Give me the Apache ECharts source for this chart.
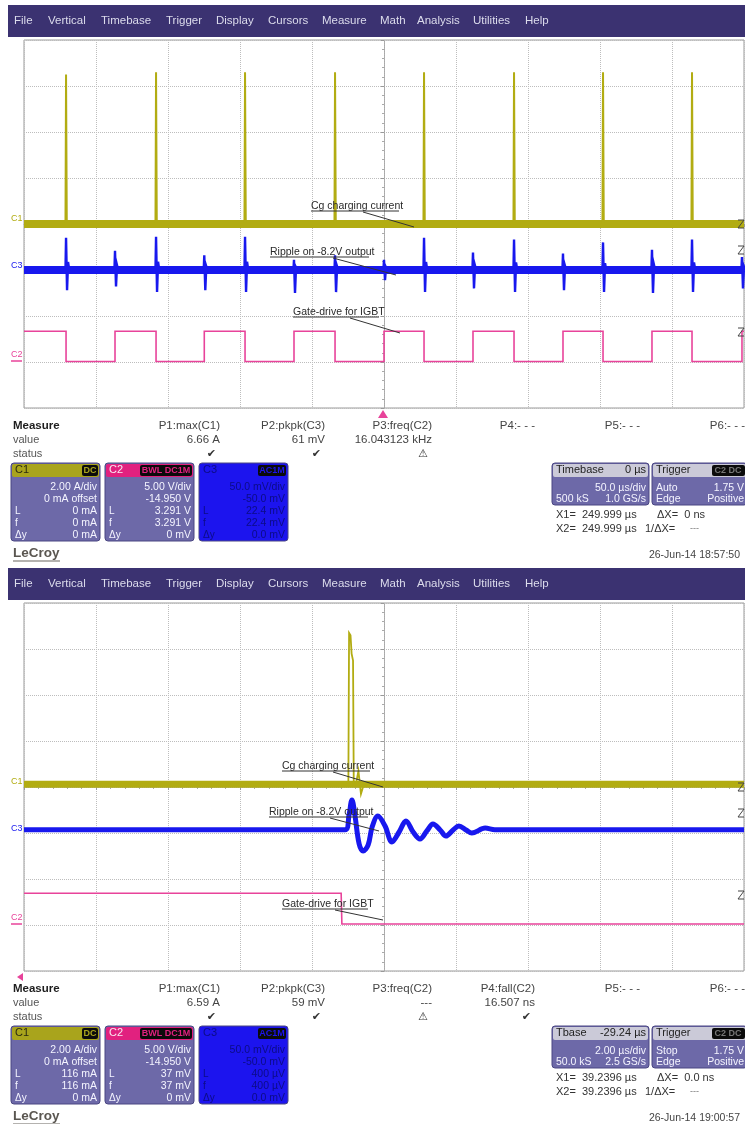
<!DOCTYPE html>
<html><head><meta charset="utf-8">
<script src="https://cdn.jsdelivr.net/npm/echarts@6/dist/echarts.min.js"></script>
<style>html,body{margin:0;padding:0;background:#fff}#c{width:745px;height:1124px}</style>
</head><body><div id="c"></div><script>
// ================= DATA =================
// Top capture: 50 µs/div, time in µs (screen -250..250)
const topTime = [-250, 250];
const topC2Rise = [-186.8, -124.8, -62.5, 0, 61.8, 124.3, 186.1, 248.6];      // µs
const topC2Fall = [-220.8, -158.3, -96.5, -34.0, 27.8, 90.3, 152.1, 213.9];   // µs
const topC2Levels = [3.29, 0.0];            // V high / low
const topC1Base = 0.0;                      // A
const topC1SpikeT = [-220.8, -158.3, -96.5, -34.0, 27.8, 90.3, 152.1, 213.9]; // µs
const topC1SpikeA = [6.5, 6.6, 6.6, 6.6, 6.6, 6.6, 6.6, 6.6];               // A
const topC3Base = 0.0;                      // mV
const topC3SpikeT = [-220.8, -186.8, -158.3, -124.8, -96.5, -62.5, -34.0, 0, 27.8, 61.8, 90.3, 124.3, 152.1, 186.1, 213.9, 248.6];
const topC3SpikeUp = [35, 21, 36, 16, 36, 11, 16, 11, 35, 19, 33, 18, 30, 22, 33, 14];     // mV
const topC3SpikeDn = [-22, -18, -24, -22, -24, -25, -24, -11, -24, -20, -24, -22, -24, -25, -24, -20];

// Bottom capture: 2 µs/div, time in µs (screen -10..10)
const botTime = [-10, 10];
const botC1Base = 0.12; // A
const botC1 = [[-10,0.12],[-0.99,0.12],[-0.97,6.7],[-0.93,6.6],[-0.90,5.8],[-0.86,5.5],[-0.84,0.12],[-0.78,0.12],[-0.71,0.7],[-0.64,-0.3],[-0.56,0.12],[10,0.12]];
const botC3Base = 3.5; // mV
const botC3 = [[-10,3.5],[-1.08,3.5],[-0.97,20],[-0.89,36],[-0.81,20],[-0.69,-12],[-0.58,-19.6],[-0.44,-13],[-0.33,6.5],[-0.17,18.5],[0.03,7.6],[0.22,-9.8],[0.42,1.1],[0.61,13],[0.81,1.1],[1.0,-6.5],[1.19,2.2],[1.36,9.8],[1.56,3.3],[1.72,-3.3],[1.92,3.3],[2.08,7.6],[2.28,3.3],[2.44,0],[2.81,5.4],[3.08,3.5],[10,3.5]];
const botC2 = [[-10,3.4],[-1.19,3.4],[-1.17,0.06],[10,0.06]]; // V

// channel vertical settings: units/div and position (div)
const C1 = {scale: 2, pos: 0};
const C3 = {scale: 50, pos: -1};
const C2 = {scale: 5, pos: -2.99};
const yTicks = [-4, 4, 1];

// ================= helpers =================
const toDiv = (ch, pts) => pts.map(p => [p[0], p[1] / ch.scale + ch.pos]);
function squareWave(t0, t1, rises, falls, hi, lo) {
  const ev = rises.map(t => [t, hi]).concat(falls.map(t => [t, lo])).sort((a, b) => a[0] - b[0]);
  let cur = ev.length && ev[0][1] === lo ? hi : lo;
  const out = [[t0, cur]];
  ev.forEach(e => { out.push([e[0], cur]); cur = e[1]; out.push([e[0], cur]); });
  out.push([t1, cur]);
  return out;
}
function spikes(t0, t1, base, ts, up, dn) {
  const out = [[t0, base]];
  ts.forEach((t, i) => {
    out.push([t - 0.4, base]); out.push([t, up[i]]);
    if (dn) { out.push([t + 0.7, dn[i]]); out.push([t + 1.4, base + up[i] * 0.25]); }
    out.push([t + (dn ? 2.2 : 0.5), base]);
  });
  out.push([t1, base]);
  return out;
}

const COL = {c1: '#b2ac12', c3: '#1818ee', c2: '#e8439a'};
const FONT = '"Liberation Sans", Arial, "DejaVu Sans", sans-serif';

function txt(x, y, s, o) {
  o = o || {};
  return {type: 'text', x: x, y: y, z: o.z || 30, silent: true,
    style: {text: s, fill: o.c || '#3a3a3a', font: (o.w || 'normal') + ' ' + (o.s || 11) + 'px ' + FONT,
      align: o.a || 'left', textAlign: o.a || 'left', verticalAlign: 'middle', textVerticalAlign: 'middle'}};
}
function rect(x, y, w, h, fill, o) {
  o = o || {};
  return {type: 'rect', z: o.z || 25, silent: true, shape: {x: x, y: y, width: w, height: h, r: o.r || 0},
    style: {fill: fill, stroke: o.stroke || null, lineWidth: o.lw || 1}};
}
function line(x1, y1, x2, y2, c, w, z) {
  return {type: 'line', z: z || 30, silent: true, shape: {x1: x1, y1: y1, x2: x2, y2: y2}, style: {stroke: c || '#333', lineWidth: w || 1}};
}

const menuItems = [['File', 14], ['Vertical', 48], ['Timebase', 101], ['Trigger', 166], ['Display', 216], ['Cursors', 268], ['Measure', 322], ['Math', 380], ['Analysis', 417], ['Utilities', 473], ['Help', 525]];
const colX = [220, 325, 432, 535, 640, 745];

function panel(y0, P) {
  const g = [];
  // menu bar
  g.push(rect(8, y0 + 5, 737, 32, '#3b3271', {z: 20}));
  menuItems.forEach(m => g.push(txt(m[1], y0 + 21, m[0], {c: '#dcdcec', s: 11.5})));
  // left channel labels
  g.push(txt(11, y0 + 219, 'C1', {c: COL.c1, s: 9}));
  g.push(txt(11, y0 + 266, 'C3', {c: COL.c3, s: 9}));
  g.push(txt(11, y0 + 355, 'C2', {c: COL.c2, s: 9}));
  g.push(line(11, y0 + 361, 22, y0 + 361, COL.c2, 1.5));
  // right side level markers
  [[224, '#444'], [250, '#444'], [332, '#444']].forEach(m => {
    const y = y0 + m[0];
    g.push({type: 'polyline', z: 30, silent: true, shape: {points: [[738, y - 4], [744, y - 4], [738, y + 4], [744, y + 4]]}, style: {stroke: m[1], lineWidth: 1, fill: null}});
  });
  // annotations
  P.notes.forEach(n => {
    g.push(txt(n.x, y0 + n.y, n.t, {c: '#2a2a2a', s: 10.5}));
    g.push(line(n.x, y0 + n.y + 5, n.x + n.w, y0 + n.y + 5, '#333', 1));
    g.push(line(n.l[0], y0 + n.l[1], n.l[2], y0 + n.l[3], '#333', 1));
  });
  // trigger marker
  if (P.trigTop) g.push({type: 'polygon', z: 30, silent: true, shape: {points: [[378, y0 + 418], [388, y0 + 418], [383, y0 + 410]]}, style: {fill: COL.c2}});
  else g.push({type: 'polygon', z: 30, silent: true, shape: {points: [[17, y0 + 414], [23, y0 + 410], [23, y0 + 418]]}, style: {fill: COL.c2}});
  // measure table
  g.push(txt(13, y0 + 426, 'Measure', {w: 'bold', s: 11.5, c: '#1e1e1e'}));
  g.push(txt(13, y0 + 440, 'value', {c: '#555'}));
  g.push(txt(13, y0 + 454, 'status', {c: '#555'}));
  P.heads.forEach((h, i) => g.push(txt(colX[i], y0 + 426, h, {a: 'right', s: 11.5, c: '#444'})));
  P.vals.forEach((h, i) => { if (h) g.push(txt(colX[i], y0 + 440, h, {a: 'right', s: 11.5, c: '#444'})); });
  P.stat.forEach((h, i) => { if (h) g.push(txt(colX[i] - 4, y0 + 454, h, {a: 'right', s: 11, c: '#333'})); });
  // channel boxes
  const boxes = [
    {x: 11, name: 'C1', badge: 'DC', hc: '#a9a41c', bc: '#6d69a8', tc: '#f4f4ff', nc: '#2a2a10', rows: P.c1},
    {x: 105, name: 'C2', badge: 'BWL DC1M', hc: '#e1217f', bc: '#6d69a8', tc: '#f4f4ff', nc: '#f8e8f0', rows: P.c2},
    {x: 199, name: 'C3', badge: 'AC1M', hc: '#1c14ee', bc: '#1c14ee', tc: '#0c0c86', nc: '#0c0c86', rows: P.c3}
  ];
  const rowY = [487, 499, 511, 523, 535];
  const rowL = ['', '', 'L', 'f', 'Δy'];
  boxes.forEach(b => {
    g.push(rect(b.x, y0 + 463, 89, 78, b.bc, {r: 3, stroke: '#4a4682'}));
    g.push(rect(b.x + 1, y0 + 464, 87, 13, b.hc, {r: 2}));
    g.push(txt(b.x + 4, y0 + 470, b.name, {c: b.nc, s: 11}));
    const bw = b.badge.length * 6 + 4;
    g.push(rect(b.x + 87 - bw, y0 + 465, bw, 11, '#0b0b0b', {r: 2, z: 26}));
    g.push(txt(b.x + 87 - bw / 2, y0 + 470.5, b.badge, {a: 'center', c: b.hc, s: 9, w: 'bold'}));
    b.rows.forEach((r, i) => {
      g.push(txt(b.x + 86, y0 + rowY[i], r, {a: 'right', c: b.tc, s: 10.5}));
      if (rowL[i]) g.push(txt(b.x + 4, y0 + rowY[i], rowL[i], {c: b.tc, s: 10}));
    });
  });
  // timebase / trigger boxes
  g.push(rect(552, y0 + 463, 97, 42, '#6d69a8', {r: 3, stroke: '#4a4682'}));
  g.push(rect(553, y0 + 464, 95, 13, '#cbcad8', {r: 2}));
  g.push(txt(556, y0 + 470, P.tbName, {c: '#222', s: 11}));
  g.push(txt(646, y0 + 470, P.tbVal, {a: 'right', c: '#222', s: 11}));
  g.push(txt(646, y0 + 488, P.tbDiv, {a: 'right', c: '#f4f4ff', s: 10.5}));
  g.push(txt(556, y0 + 499, P.tbS, {c: '#f4f4ff', s: 10.5}));
  g.push(txt(646, y0 + 499, P.tbRate, {a: 'right', c: '#f4f4ff', s: 10.5}));
  g.push(rect(652, y0 + 463, 95, 42, '#6d69a8', {r: 3, stroke: '#4a4682'}));
  g.push(rect(653, y0 + 464, 93, 13, '#cbcad8', {r: 2}));
  g.push(txt(656, y0 + 470, 'Trigger', {c: '#222', s: 11}));
  g.push(rect(712, y0 + 465, 33, 11, '#0b0b0b', {r: 2, z: 26}));
  g.push(txt(728, y0 + 470.5, 'C2 DC', {a: 'center', c: '#777', s: 9, w: 'bold'}));
  g.push(txt(656, y0 + 488, P.trMode, {c: '#f4f4ff', s: 10.5}));
  g.push(txt(744, y0 + 488, '1.75 V', {a: 'right', c: '#f4f4ff', s: 10.5}));
  g.push(txt(656, y0 + 499, 'Edge', {c: '#f4f4ff', s: 10.5}));
  g.push(txt(744, y0 + 499, 'Positive', {a: 'right', c: '#f4f4ff', s: 10.5}));
  // cursor readouts
  g.push(txt(556, y0 + 515, 'X1=  ' + P.x, {c: '#333', s: 11}));
  g.push(txt(556, y0 + 529, 'X2=  ' + P.x, {c: '#333', s: 11}));
  g.push(txt(657, y0 + 515, 'ΔX=  ' + P.dx, {c: '#333', s: 11}));
  g.push(txt(645, y0 + 529, '1/ΔX=', {c: '#333', s: 11}));
  g.push(txt(690, y0 + 529, '---', {c: '#777', s: 9}));
  // logo & date
  g.push(txt(13, y0 + 553, 'LeCroy', {c: '#5a5650', s: 13.5, w: 'bold'}));
  g.push(line(13, y0 + 561, 60, y0 + 561, '#6a6660', 1.2));
  g.push(txt(740, y0 + 555, P.date, {a: 'right', c: '#444', s: 10.5}));
  return g;
}

const topP = {
  trigTop: true,
  notes: [
    {t: 'Cg charging current', x: 311, y: 206, w: 88, l: [363, 212, 414, 227]},
    {t: 'Ripple on -8.2V output', x: 270, y: 252, w: 99, l: [333, 258, 396, 275]},
    {t: 'Gate-drive for IGBT', x: 293, y: 312, w: 86, l: [350, 318, 400, 333]}
  ],
  heads: ['P1:max(C1)', 'P2:pkpk(C3)', 'P3:freq(C2)', 'P4:- - -', 'P5:- - -', 'P6:- - -'],
  vals: ['6.66 A', '61 mV', '16.043123 kHz', '', '', ''],
  stat: ['✔', '✔', '⚠', '', '', ''],
  c1: ['2.00 A/div', '0 mA offset', '0 mA', '0 mA', '0 mA'],
  c2: ['5.00 V/div', '-14.950 V', '3.291 V', '3.291 V', '0 mV'],
  c3: ['50.0 mV/div', '-50.0 mV', '22.4 mV', '22.4 mV', '0.0 mV'],
  tbName: 'Timebase', tbVal: '0 µs', tbDiv: '50.0 µs/div', tbS: '500 kS', tbRate: '1.0 GS/s', trMode: 'Auto',
  x: '249.999 µs', dx: '0 ns', date: '26-Jun-14 18:57:50'
};
const botP = {
  trigTop: false,
  notes: [
    {t: 'Cg charging current', x: 282, y: 203, w: 88, l: [333, 209, 383, 224]},
    {t: 'Ripple on -8.2V output', x: 269, y: 249, w: 99, l: [330, 255, 379, 268]},
    {t: 'Gate-drive for IGBT', x: 282, y: 341, w: 86, l: [335, 347, 383, 357]}
  ],
  heads: ['P1:max(C1)', 'P2:pkpk(C3)', 'P3:freq(C2)', 'P4:fall(C2)', 'P5:- - -', 'P6:- - -'],
  vals: ['6.59 A', '59 mV', '---', '16.507 ns', '', ''],
  stat: ['✔', '✔', '⚠', '✔', '', ''],
  c1: ['2.00 A/div', '0 mA offset', '116 mA', '116 mA', '0 mA'],
  c2: ['5.00 V/div', '-14.950 V', '37 mV', '37 mV', '0 mV'],
  c3: ['50.0 mV/div', '-50.0 mV', '400 µV', '400 µV', '0.0 mV'],
  tbName: 'Tbase', tbVal: '-29.24 µs', tbDiv: '2.00 µs/div', tbS: '50.0 kS', tbRate: '2.5 GS/s', trMode: 'Stop',
  x: '39.2396 µs', dx: '0.0 ns', date: '26-Jun-14 19:00:57'
};

// ================= chart =================
function xAx(gi, t, iv) {
  return {gridIndex: gi, type: 'value', min: t[0], max: t[1], interval: iv,
    axisLabel: {show: false},
    axisLine: {show: true, onZero: true, lineStyle: {color: '#a8a8a8', type: 'dotted'}},
    axisTick: {show: true, length: 3, lineStyle: {color: '#999'}},
    minorTick: {show: true, splitNumber: 5, length: 2, lineStyle: {color: '#aaa'}},
    splitLine: {show: true, lineStyle: {color: '#bdbdbd', type: 'dotted'}}};
}
function yAx(gi) {
  return {gridIndex: gi, type: 'value', min: yTicks[0], max: yTicks[1], interval: yTicks[2],
    axisLabel: {show: false},
    axisLine: {show: true, onZero: true, lineStyle: {color: '#a8a8a8', type: 'dotted'}},
    axisTick: {show: true, length: 3, lineStyle: {color: '#999'}},
    minorTick: {show: true, splitNumber: 5, length: 2, lineStyle: {color: '#aaa'}},
    splitLine: {show: true, lineStyle: {color: '#bdbdbd', type: 'dotted'}}};
}
function ser(gi, data, color, w, o) {
  o = o || {};
  return {type: 'line', xAxisIndex: gi, yAxisIndex: gi, data: data, showSymbol: false, symbol: 'none',
    smooth: o.smooth || false, clip: true, silent: true, z: o.z || 2,
    lineStyle: {color: color, width: w, cap: 'butt', join: 'miter'}};
}

const topC2 = toDiv(C2, squareWave(topTime[0], topTime[1], topC2Rise, topC2Fall, topC2Levels[0], topC2Levels[1]));
const topC1 = toDiv(C1, spikes(topTime[0], topTime[1], topC1Base, topC1SpikeT, topC1SpikeA, null));
const topC3 = toDiv(C3, spikes(topTime[0], topTime[1], topC3Base, topC3SpikeT, topC3SpikeUp, topC3SpikeDn));

const option = {
  animation: false,
  backgroundColor: '#fff',
  grid: [
    {left: 24, top: 40, width: 720, height: 368, show: true, borderColor: '#9a9a9a', borderWidth: 1, backgroundColor: '#fff'},
    {left: 24, top: 603, width: 720, height: 368, show: true, borderColor: '#9a9a9a', borderWidth: 1, backgroundColor: '#fff'}
  ],
  xAxis: [xAx(0, topTime, 50), xAx(1, botTime, 2)],
  yAxis: [yAx(0), yAx(1)],
  series: [
    ser(0, topC2, COL.c2, 1.6, {z: 3}),
    ser(0, toDiv(C3, [[topTime[0], topC3Base], [topTime[1], topC3Base]]), COL.c3, 8, {z: 4}),
    ser(0, topC3, COL.c3, 2.4, {z: 5}),
    ser(0, toDiv(C1, [[topTime[0], topC1Base], [topTime[1], topC1Base]]), COL.c1, 8, {z: 6}),
    ser(0, topC1, COL.c1, 2, {z: 7}),

    ser(1, toDiv(C2, botC2), COL.c2, 1.6, {z: 3}),
    ser(1, toDiv(C3, botC3), COL.c3, 5, {z: 4, smooth: 0.35}),
    ser(1, toDiv(C1, [[botTime[0], botC1Base], [botTime[1], botC1Base]]), COL.c1, 7, {z: 6}),
    ser(1, toDiv(C1, botC1), COL.c1, 1.8, {z: 7})
  ],
  graphic: {elements: panel(0, topP).concat(panel(563, botP))}
};
const chart = echarts.init(document.getElementById('c'), null, {renderer: 'canvas'});
chart.setOption(option);
</script></body></html>
